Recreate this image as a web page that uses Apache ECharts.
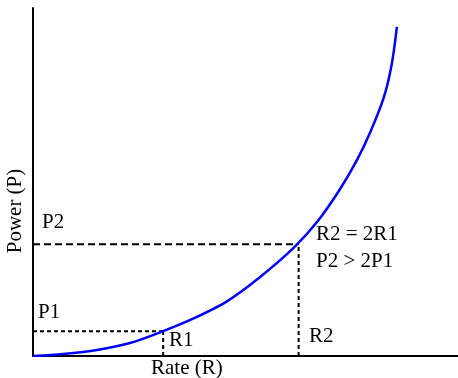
<!DOCTYPE html>
<html>
<head>
<meta charset="utf-8">
<script src="https://cdn.jsdelivr.net/npm/echarts@6/dist/echarts.min.js"></script>
<style>html,body{margin:0;padding:0;background:#fff}#c{width:458px;height:378px}</style>
</head>
<body>
<div id="c"></div>
<script>
// Curve: power vs rate (R1 = ~1, P1 = ~1 units)
var rate  = [0, 0.226, 0.482, 0.73, 0.98, 1.205, 1.46, 1.71, 1.96, 2.14, 2.31, 2.44, 2.54, 2.64, 2.70, 2.74];
var power = [0, 0.08, 0.24, 0.52, 1.0, 1.5, 2.2, 3.18, 4.34, 5.4, 6.7, 7.89, 9.01, 10.38, 11.71, 13.24];
var R1 = 0.98, P1 = 1.0;
var R2 = 2.0, P2 = 4.5;
var labelTexts = ["P1", "P2", "R1", "R2", "R2 = 2R1", "P2 > 2P1", "Rate (R)", "Power (P)"];

var chart = echarts.init(document.getElementById('c'), null, {renderer: 'canvas'});
var FONT = '"Liberation Serif", "Times New Roman", serif';
var curve = rate.map(function (r, i) { return [r, power[i]]; });

function txt(t, x, y, align, rot) {
  return {
    type: 'text', x: x, y: y, z: 100, rotation: rot || 0,
    style: { text: t, fill: '#000', font: '21px ' + FONT, textVerticalAlign: 'middle', textAlign: align || 'left' }
  };
}

var dash = { color: '#000', width: 2, type: [4, 3] };
var dashLong = { color: '#000', width: 2, type: [7, 4] };

chart.setOption({
  animation: false,
  grid: { left: 33, right: 0, top: 8, bottom: 22 },
  xAxis: {
    type: 'value', min: 0, max: 3.2,
    axisLine: { show: true, onZero: false, lineStyle: { color: '#000', width: 2 } },
    axisTick: { show: false }, axisLabel: { show: false }, splitLine: { show: false }
  },
  yAxis: {
    type: 'value', min: 0, max: 14,
    axisLine: { show: true, onZero: false, lineStyle: { color: '#000', width: 2 } },
    axisTick: { show: false }, axisLabel: { show: false }, splitLine: { show: false }
  },
  series: [
    { type: 'line', data: [[0, P1], [R1, P1]], showSymbol: false, lineStyle: dash, silent: true },
    { type: 'line', data: [[R1, 0], [R1, P1]], showSymbol: false, lineStyle: dash, silent: true },
    { type: 'line', data: [[0, P2], [R2, P2]], showSymbol: false, lineStyle: dashLong, silent: true },
    { type: 'line', data: [[R2, 0], [R2, P2]], showSymbol: false, lineStyle: dash, silent: true },
    { type: 'line', data: curve, smooth: 0.3, showSymbol: false,
      lineStyle: { color: '#0000ff', width: 2.5 }, z: 5 }
  ],
  graphic: [
    txt(labelTexts[0], 38, 312),
    txt(labelTexts[1], 42, 222),
    txt(labelTexts[2], 169, 340),
    txt(labelTexts[3], 309, 336),
    txt(labelTexts[4], 316, 234),
    txt(labelTexts[5], 316, 261),
    txt(labelTexts[6], 151, 368),
    txt(labelTexts[7], 15, 211, 'center', Math.PI / 2)
  ]
});
</script>
</body>
</html>
